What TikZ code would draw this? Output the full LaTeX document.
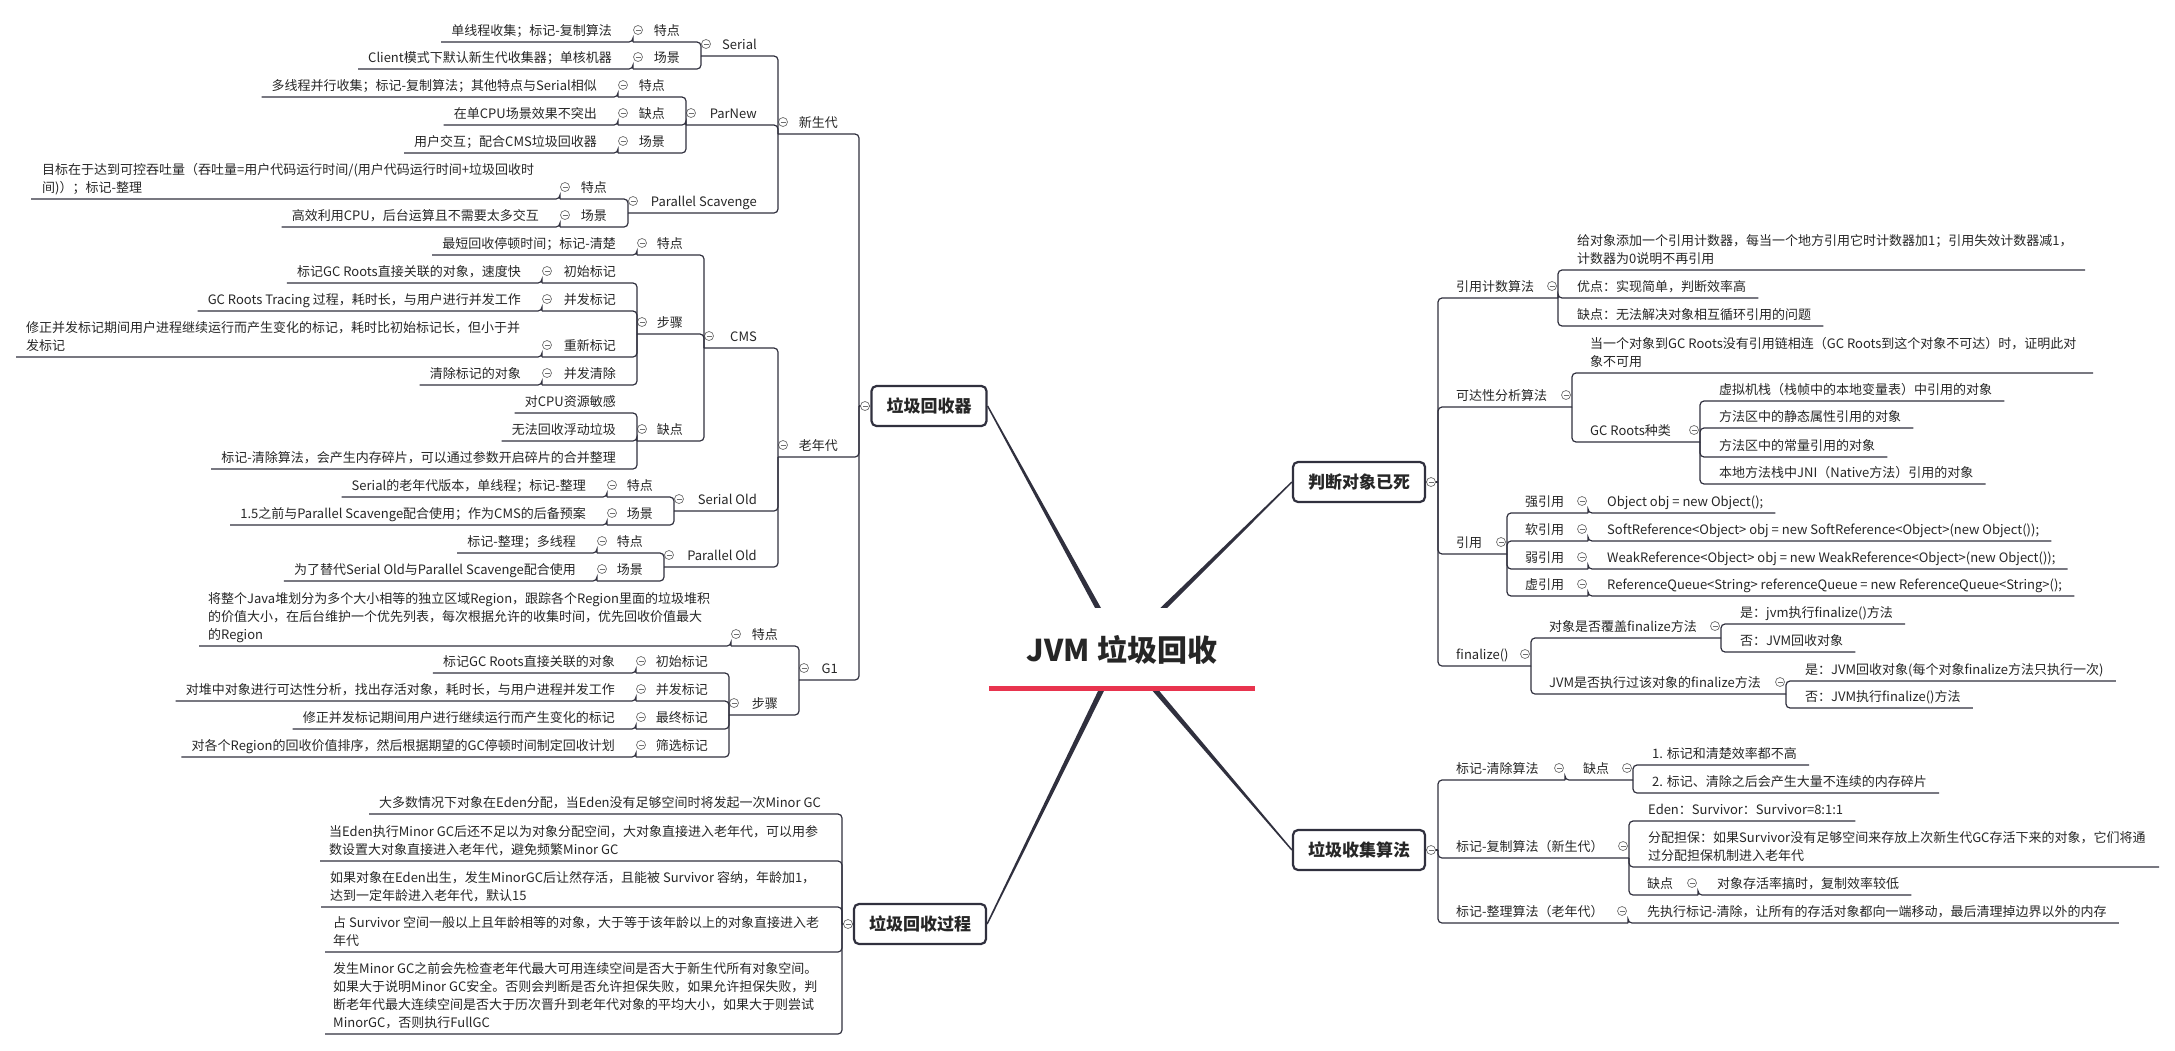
\documentclass[tikz,border=0pt]{standalone}
\usepackage{fontspec}
\setmainfont{Noto Sans CJK SC}
\usetikzlibrary{calc}
\definecolor{ln}{HTML}{30303E}
\definecolor{txt}{HTML}{262626}
\definecolor{ico}{HTML}{6E6E6E}
\definecolor{hl}{HTML}{E8344E}
\tikzset{lbl/.style={font=\fontsize{13}{18}\selectfont, text=txt, inner sep=0pt},
  branch/.style={draw=ln, line width=1.2pt, rounded corners=4pt},
  fold/.style={circle, draw=ico, line width=0.7pt, fill=white, minimum size=9pt, inner sep=0pt,
    path picture={\draw[ico, line width=0.7pt] ([xshift=-2.5pt]path picture bounding box.center)
      -- ([xshift=2.5pt]path picture bounding box.center);}},
  topic/.style={draw=ln, line width=2.2pt, rounded corners=5pt, fill=white, text=txt,
    font=\fontsize{17}{20}\selectfont\bfseries, minimum height=40pt, inner xsep=15pt, inner ysep=0pt}}
% left side: name, tail x, head x, line y, text
\newcommand\lpt[5]{\node[lbl, anchor=base east] (#1) at (#3-21,#4-7) {#5};
  \coordinate (#1-t) at (#2,#4);
  \node[fold] at (#2+5,#4-12) {};}
\newcommand\lleaf[4]{\node[lbl, anchor=base east] (#1) at (#2-21,#3-7) {#4};
  \path (#1.west) ++(-10,0) coordinate (#1-w) (0,#3) coordinate (#1-y);
  \coordinate (#1-t) at (#1-w |- #1-y);}
% right side: name, head x, tail x, line y, text
\newcommand\rpt[5]{\node[lbl, anchor=base west] (#1) at (#2+18,#4-7) {#5};
  \coordinate (#1-t) at (#3,#4);
  \node[fold] at (#3-6,#4-12) {};}
\newcommand\rleaf[4]{\node[lbl, anchor=base west] (#1) at (#2+19,#3-7) {#4};
  \path (#1.east) ++(12,0) coordinate (#1-w) (0,#3) coordinate (#1-y);
  \coordinate (#1-t) at (#1-w |- #1-y);}
% several lines: name, text x, line y, tail x, text
\newcommand\mleaf[5]{\node[lbl, anchor=base west, align=left] (#1) at (#2,#3-7) {#5};
  \coordinate (#1-t) at (#4,#3);}

\begin{document}
\begin{tikzpicture}[x=1pt, y=-1pt]
\useasboundingbox (0,0) rectangle (2175,1050);
\coordinate (hub) at (1121,650);

\node[topic] (gc) at (929,406) {垃圾回收器};
\node[topic] (proc) at (920,924) {垃圾回收过程};
\node[topic] (dead) at (1359,482) {判断对象已死};
\node[topic] (algo) at (1359,850) {垃圾收集算法};
\coordinate (gc-t) at (859,406);
\coordinate (proc-t) at (842,924);
\coordinate (dead-t) at (1438,482);
\coordinate (algo-t) at (1438,850);

\foreach \t/\a in {gc/east, dead/west, algo/west, proc/east}
  \fill[ln] ($(hub)!3pt!90:(\t.\a)$) -- ($(\t.\a)!0.7pt!-90:(hub)$)
    -- ($(\t.\a)!0.7pt!90:(hub)$) -- ($(hub)!3pt!-90:(\t.\a)$) -- cycle;
\node[fill=white, minimum width=265pt, minimum height=83pt, inner sep=0pt, text=txt,
  font=\fontsize{30}{30}\selectfont\bfseries] (title) at (1122,649.5) {JVM 垃圾回收};
\draw[hl, line width=5pt] ([yshift=3pt]title.south west) -- ([yshift=3pt]title.south east);

% 垃圾回收器
\lpt{young}{778}{859}{134}{新生代}
\lpt{old}{778}{859}{457}{老年代}
\lpt{gone}{799}{859}{680}{G1}
\lpt{serial}{701}{778}{56}{Serial}
\lpt{parnew}{686}{778}{125}{ParNew}
\lpt{pscav}{628}{778}{213}{Parallel Scavenge}
\lpt{serA}{633}{701}{42}{特点}
\lpt{serB}{633}{701}{69}{场景}
\lleaf{serA1}{633}{42}{单线程收集；标记-复制算法}
\lleaf{serB1}{633}{69}{Client模式下默认新生代收集器；单核机器}
\lpt{pnA}{618}{686}{97}{特点}
\lpt{pnB}{618}{686}{125}{缺点}
\lpt{pnC}{618}{686}{153}{场景}
\lleaf{pnA1}{618}{97}{多线程并行收集；标记-复制算法；其他特点与Serial相似}
\lleaf{pnB1}{618}{125}{在单CPU场景效果不突出}
\lleaf{pnC1}{618}{153}{用户交互；配合CMS垃圾回收器}
\lpt{psA}{560}{628}{199}{特点}
\lpt{psB}{560}{628}{227}{场景}
\mleaf{psA1}{42}{199}{31}{目标在于达到可控吞吐量（吞吐量=用户代码运行时间/(用户代码运行时间+垃圾回收时\\间)）；标记-整理}
\lleaf{psB1}{560}{227}{高效利用CPU，后台运算且不需要太多交互}
\lpt{cms}{704}{778}{348}{CMS}
\lpt{sold}{674}{778}{511}{Serial Old}
\lpt{pold}{664}{778}{567}{Parallel Old}
\lpt{cmsA}{637}{704}{255}{特点}
\lpt{cmsB}{637}{704}{334}{步骤}
\lpt{cmsC}{637}{704}{441}{缺点}
\lleaf{cmsA1}{637}{255}{最短回收停顿时间；标记-清楚}
\lpt{st1}{542}{637}{283}{初始标记}
\lpt{st2}{542}{637}{311}{并发标记}
\lpt{st3}{542}{637}{357}{重新标记}
\lpt{st4}{542}{637}{385}{并发清除}
\lleaf{st1a}{542}{283}{标记GC Roots直接关联的对象，速度快}
\lleaf{st2a}{542}{311}{GC Roots Tracing 过程，耗时长，与用户进行并发工作}
\mleaf{st3a}{26}{357}{16}{修正并发标记期间用户进程继续运行而产生变化的标记，耗时比初始标记长，但小于并\\发标记}
\lleaf{st4a}{542}{385}{清除标记的对象}
\lleaf{cmsC1}{637}{413}{对CPU资源敏感}
\lleaf{cmsC2}{637}{441}{无法回收浮动垃圾}
\lleaf{cmsC3}{637}{469}{标记-清除算法，会产生内存碎片，可以通过参数开启碎片的合并整理}
\lpt{soA}{607}{674}{497}{特点}
\lpt{soB}{607}{674}{525}{场景}
\lleaf{soA1}{607}{497}{Serial的老年代版本，单线程；标记-整理}
\lleaf{soB1}{607}{525}{1.5之前与Parallel Scavenge配合使用；作为CMS的后备预案}
\lpt{poA}{597}{664}{553}{特点}
\lpt{poB}{597}{664}{581}{场景}
\lleaf{poA1}{597}{553}{标记-整理；多线程}
\lleaf{poB1}{597}{581}{为了替代Serial Old与Parallel Scavenge配合使用}
\lpt{g1A}{731}{799}{646}{特点}
\lpt{g1B}{729}{799}{715}{步骤}
\mleaf{g1A1}{208}{646}{199}{将整个Java堆划分为多个大小相等的独立区域Region，跟踪各个Region里面的垃圾堆积\\的价值大小，在后台维护一个优先列表，每次根据允许的收集时间，优先回收价值最大\\的Region}
\lpt{gs1}{636}{729}{673}{初始标记}
\lpt{gs2}{636}{729}{701}{并发标记}
\lpt{gs3}{636}{729}{729}{最终标记}
\lpt{gs4}{636}{729}{757}{筛选标记}
\lleaf{gs1a}{636}{673}{标记GC Roots直接关联的对象}
\lleaf{gs2a}{636}{701}{对堆中对象进行可达性分析，找出存活对象，耗时长，与用户进程并发工作}
\lleaf{gs3a}{636}{729}{修正并发标记期间用户进行继续运行而产生变化的标记}
\lleaf{gs4a}{636}{757}{对各个Region的回收价值排序，然后根据期望的GC停顿时间制定回收计划}

% 垃圾回收过程
\lleaf{pr1}{842}{814}{大多数情况下对象在Eden分配，当Eden没有足够空间时将发起一次Minor GC}
\mleaf{pr2}{329}{861}{320}{当Eden执行Minor GC后还不足以为对象分配空间，大对象直接进入老年代，可以用参\\数设置大对象直接进入老年代，避免频繁Minor GC}
\mleaf{pr3}{330}{907}{321}{如果对象在Eden出生，发生MinorGC后让然存活，且能被 Survivor 容纳，年龄加1，\\达到一定年龄进入老年代，默认15}
\mleaf{pr4}{333}{952}{325}{占 Survivor 空间一般以上且年龄相等的对象，大于等于该年龄以上的对象直接进入老\\年代}
\mleaf{pr5}{333}{1034}{325}{发生Minor GC之前会先检查老年代最大可用连续空间是否大于新生代所有对象空间。\\如果大于说明Minor GC安全。否则会判断是否允许担保失败，如果允许担保失败，判\\断老年代最大连续空间是否大于历次晋升到老年代对象的平均大小，如果大于则尝试\\MinorGC，否则执行FullGC}

% 判断对象已死
\rpt{rc}{1438}{1558}{298}{引用计数算法}
\rpt{ra}{1438}{1572}{407}{可达性分析算法}
\rpt{rf}{1438}{1507}{554}{引用}
\rpt{fz}{1438}{1531}{666}{finalize()}
\mleaf{rc1}{1577}{270}{2085}{给对象添加一个引用计数器，每当一个地方引用它时计数器加1；引用失效计数器减1，\\计数器为0说明不再引用}
\rleaf{rc2}{1558}{298}{优点：实现简单，判断效率高}
\rleaf{rc3}{1558}{326}{缺点：无法解决对象相互循环引用的问题}
\mleaf{ra1}{1590}{373}{2093}{当一个对象到GC Roots没有引用链相连（GC Roots到这个对象不可达）时，证明此对\\象不可用}
\rpt{ra2}{1572}{1700}{442}{GC Roots种类}
\rleaf{gr1}{1700}{401}{虚拟机栈（栈帧中的本地变量表）中引用的对象}
\rleaf{gr2}{1700}{428}{方法区中的静态属性引用的对象}
\rleaf{gr3}{1700}{457}{方法区中的常量引用的对象}
\rleaf{gr4}{1700}{484}{本地方法栈中JNI（Native方法）引用的对象}
\rpt{rfA}{1507}{1588}{513}{强引用}
\rpt{rfB}{1507}{1588}{541}{软引用}
\rpt{rfC}{1507}{1588}{569}{弱引用}
\rpt{rfD}{1507}{1588}{596}{虚引用}
\rleaf{rfA1}{1588}{513}{Object obj = new Object();}
\rleaf{rfB1}{1588}{541}{SoftReference<Object> obj = new SoftReference<Object>(new Object());}
\rleaf{rfC1}{1588}{569}{WeakReference<Object> obj = new WeakReference<Object>(new Object());}
\rleaf{rfD1}{1588}{596}{ReferenceQueue<String> referenceQueue = new ReferenceQueue<String>();}
\rpt{fzA}{1531}{1721}{638}{对象是否覆盖finalize方法}
\rpt{fzB}{1531}{1786}{694}{JVM是否执行过该对象的finalize方法}
\rleaf{fzA1}{1721}{624}{是：jvm执行finalize()方法}
\rleaf{fzA2}{1721}{652}{否：JVM回收对象}
\rleaf{fzB1}{1786}{681}{是：JVM回收对象(每个对象finalize方法只执行一次)}
\rleaf{fzB2}{1786}{708}{否：JVM执行finalize()方法}

% 垃圾收集算法
\rpt{ms}{1438}{1565}{780}{标记-清除算法}
\rpt{msA}{1565}{1633}{780}{缺点}
\rleaf{msA1}{1633}{765}{1. 标记和清楚效率都不高}
\rleaf{msA2}{1633}{793}{2. 标记、清除之后会产生大量不连续的内存碎片}
\rpt{mc}{1438}{1629}{858}{标记-复制算法（新生代）}
\rleaf{mc1}{1629}{821}{Eden：Survivor：Survivor=8:1:1}
\mleaf{mc2}{1648}{867}{2159}{分配担保：如果Survivor没有足够空间来存放上次新生代GC存活下来的对象，它们将通\\过分配担保机制进入老年代}
\rpt{mcA}{1629}{1698}{895}{缺点}
\rleaf{mcA1}{1698}{895}{对象存活率搞时，复制效率较低}
\rpt{mk}{1438}{1628}{923}{标记-整理算法（老年代）}
\rleaf{mk1}{1628}{923}{先执行标记-清除，让所有的存活对象都向一端移动，最后清理掉边界以外的内存}

% connectors
\foreach \p/\c in {gc/young, gc/old, gc/gone, young/serial, young/parnew, young/pscav,
    serial/serA, serial/serB, serA/serA1, serB/serB1,
    parnew/pnA, parnew/pnB, parnew/pnC, pnA/pnA1, pnB/pnB1, pnC/pnC1,
    pscav/psA, pscav/psB, psA/psA1, psB/psB1, old/cms, old/sold, old/pold,
    cms/cmsA, cms/cmsB, cms/cmsC, cmsA/cmsA1, cmsB/st1, cmsB/st2, cmsB/st3, cmsB/st4,
    st1/st1a, st2/st2a, st3/st3a, st4/st4a, cmsC/cmsC1, cmsC/cmsC2, cmsC/cmsC3,
    sold/soA, sold/soB, soA/soA1, soB/soB1, pold/poA, pold/poB, poA/poA1, poB/poB1,
    gone/g1A, gone/g1B, g1A/g1A1, g1B/gs1, g1B/gs2, g1B/gs3, g1B/gs4,
    gs1/gs1a, gs2/gs2a, gs3/gs3a, gs4/gs4a,
    proc/pr1, proc/pr2, proc/pr3, proc/pr4, proc/pr5,
    dead/rc, dead/ra, dead/rf, dead/fz, rc/rc1, rc/rc2, rc/rc3, ra/ra1, ra/ra2,
    ra2/gr1, ra2/gr2, ra2/gr3, ra2/gr4, rf/rfA, rf/rfB, rf/rfC, rf/rfD,
    rfA/rfA1, rfB/rfB1, rfC/rfC1, rfD/rfD1, fz/fzA, fz/fzB,
    fzA/fzA1, fzA/fzA2, fzB/fzB1, fzB/fzB2,
    algo/ms, algo/mc, algo/mk, ms/msA, msA/msA1, msA/msA2,
    mc/mc1, mc/mc2, mc/mcA, mcA/mcA1, mk/mk1}
  \draw[branch] (\p-t) |- (\c-t);
\draw[branch] (gc.west) -- (gc-t);
\draw[branch] (proc.west) -- (proc-t);
\draw[branch] (dead.east) -- (dead-t);
\draw[branch] (algo.east) -- (algo-t);
\node[fold] at (865,406) {};
\node[fold] at (848,924) {};
\node[fold] at (1431,482) {};
\node[fold] at (1431,850) {};
\end{tikzpicture}
\end{document}
